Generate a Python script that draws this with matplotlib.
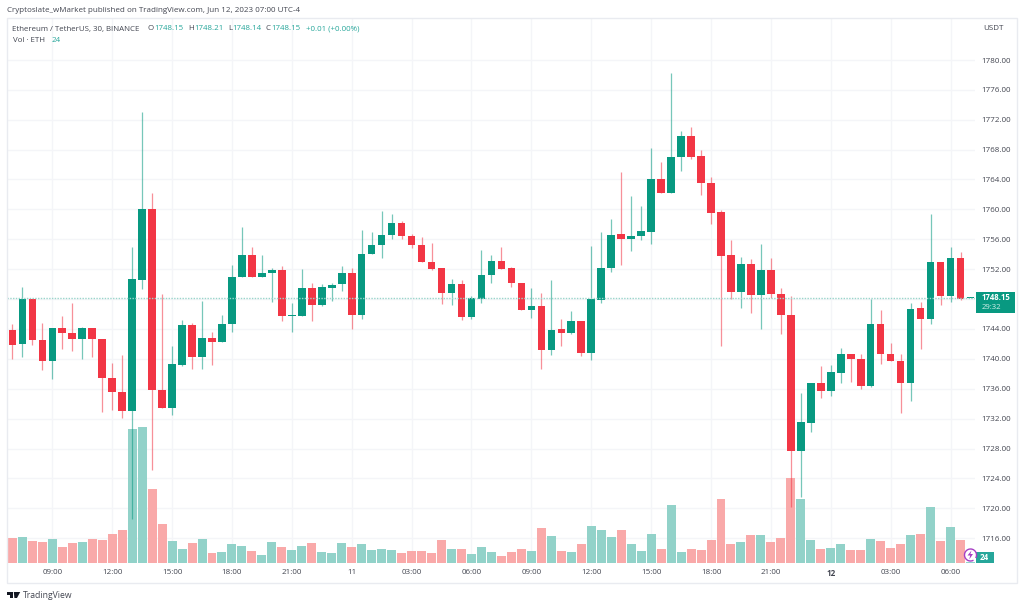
import matplotlib
matplotlib.use("Agg")
from matplotlib import pyplot as plt
from matplotlib.patches import Rectangle, Arc, Polygon
from matplotlib.transforms import Affine2D

plt.rcParams['font.family'] = ['Open Sans', 'DejaVu Sans']

# ===== data =====
opens = [1743.8, 1742.0, 1748.0, 1742.5, 1739.7, 1744.1, 1743.4, 1742.6, 1744.1, 1742.6,
         1737.4, 1735.6, 1733.0, 1750.6, 1760.1, 1735.8, 1733.45, 1739.2, 1744.5, 1740.2,
         1742.8, 1742.2, 1744.6, 1750.9, 1753.85, 1750.9, 1751.5, 1751.9, 1745.7, 1745.7,
         1749.5, 1747.15, 1749.5, 1749.95, 1751.5, 1745.8, 1754.0, 1755.3, 1756.6, 1758.2,
         1756.5, 1755.3, 1752.9, 1752.15, 1748.85, 1750.05, 1745.6, 1748.05, 1751.2, 1753.1,
         1752.15, 1750.2, 1746.5, 1747.05, 1741.2, 1743.95, 1743.5, 1745.1, 1740.8, 1747.9,
         1752.1, 1756.65, 1756.0, 1756.5, 1757.0, 1764.05, 1762.2, 1767.0, 1769.8, 1767.1,
         1763.6, 1759.6, 1753.85, 1749.0, 1752.7, 1748.6, 1751.9, 1748.7, 1745.85, 1727.6,
         1731.45, 1736.8, 1735.7, 1738.15, 1740.6, 1740.0, 1736.35, 1744.65, 1740.65, 1739.75,
         1736.7, 1746.75, 1745.3, 1752.9, 1748.4, 1753.5, 1748.14]
closes = [1741.9, 1748.0, 1742.5, 1739.7, 1744.1, 1743.4, 1742.6, 1744.1, 1742.6, 1737.4,
          1735.6, 1733.0, 1750.7, 1760.1, 1735.8, 1733.45, 1739.3, 1744.5, 1740.2, 1742.8,
          1742.2, 1744.65, 1750.9, 1753.85, 1750.9, 1751.5, 1751.9, 1745.7, 1745.8, 1749.5,
          1747.2, 1749.55, 1749.9, 1751.5, 1745.8, 1754.0, 1755.3, 1756.6, 1758.2, 1756.5,
          1755.3, 1752.9, 1752.0, 1748.85, 1750.05, 1745.6, 1748.1, 1751.2, 1753.1, 1752.05,
          1750.2, 1746.6, 1747.05, 1741.2, 1743.8, 1743.5, 1745.1, 1740.8, 1748.0, 1752.15,
          1756.6, 1756.0, 1756.5, 1757.1, 1764.05, 1762.2, 1767.05, 1769.8, 1767.05, 1763.5,
          1759.55, 1753.8, 1749.0, 1752.7, 1748.5, 1751.9, 1748.65, 1745.8, 1727.6, 1731.5,
          1736.8, 1735.7, 1738.2, 1740.6, 1739.95, 1736.35, 1744.65, 1740.6, 1739.65, 1736.7,
          1746.7, 1745.3, 1752.9, 1748.4, 1753.5, 1748.05, 1748.15]
highs = [1744.66, 1749.56, 1748.0, 1744.75, 1744.1, 1745.7, 1747.5, 1744.3, 1744.1, 1742.6,
         1739.4, 1740.5, 1755.0, 1773.0, 1762.2, 1748.7, 1741.7, 1745.2, 1744.8, 1747.7,
         1743.6, 1745.85, 1752.6, 1757.6, 1755.0, 1753.85, 1752.2, 1752.4, 1747.5, 1752.0,
         1750.1, 1750.0, 1750.2, 1752.45, 1752.1, 1757.2, 1757.0, 1759.8, 1759.4, 1758.4,
         1756.7, 1756.25, 1755.5, 1752.15, 1750.7, 1750.5, 1748.45, 1754.6, 1753.85, 1755.0,
         1752.3, 1750.2, 1749.5, 1748.75, 1750.5, 1745.3, 1746.35, 1745.1, 1755.1, 1757.0,
         1758.75, 1765.0, 1761.8, 1760.5, 1768.25, 1766.4, 1778.2, 1770.55, 1771.0, 1767.95,
         1764.4, 1759.95, 1755.9, 1753.6, 1753.3, 1755.35, 1753.5, 1749.45, 1748.45, 1735.4,
         1736.8, 1739.0, 1739.2, 1741.5, 1740.7, 1740.6, 1748.0, 1746.5, 1742.05, 1740.6,
         1747.5, 1747.65, 1759.35, 1752.9, 1755.0, 1754.3, 1748.21]
lows = [1740.0, 1740.24, 1741.8, 1738.45, 1737.3, 1741.35, 1741.1, 1740.0, 1740.2, 1732.9,
        1733.1, 1732.1, 1718.6, 1749.4, 1725.1, 1733.4, 1732.5, 1739.1, 1738.6, 1738.6,
        1739.2, 1742.2, 1743.6, 1750.9, 1750.9, 1750.9, 1747.65, 1745.05, 1743.6, 1745.7,
        1745.05, 1747.1, 1747.8, 1749.1, 1743.95, 1745.3, 1754.0, 1753.5, 1756.0, 1756.0,
        1754.9, 1752.9, 1751.9, 1747.4, 1747.2, 1745.15, 1745.3, 1747.5, 1750.2, 1752.05,
        1749.65, 1746.5, 1745.4, 1738.7, 1740.5, 1741.75, 1743.3, 1740.4, 1739.8, 1747.5,
        1751.65, 1752.55, 1754.5, 1755.9, 1755.35, 1762.2, 1762.2, 1765.15, 1766.7, 1761.95,
        1758.1, 1741.75, 1748.0, 1746.85, 1746.1, 1744.0, 1748.1, 1743.35, 1720.2, 1721.55,
        1730.15, 1734.75, 1735.0, 1736.8, 1736.95, 1736.0, 1736.2, 1739.3, 1739.65, 1732.8,
        1734.4, 1741.35, 1744.65, 1747.25, 1747.55, 1747.9, 1748.14]
volumes = [506, 520, 446, 420, 480, 334, 406, 434, 486, 474, 586, 666, 2694, 2726, 1486, 794,
           446, 280, 406, 480, 200, 226, 380, 354, 240, 174, 420, 326, 266, 354, 406, 226, 214,
           406, 320, 394, 266, 280, 266, 214, 240, 240, 214, 460, 294, 280, 186, 334, 226, 154,
           226, 280, 254, 700, 546, 240, 226, 394, 740, 666, 520, 666, 380, 254, 586, 294, 1166,
           220, 286, 266, 466, 1280, 394, 420, 574, 560, 420, 514, 1706, 1294, 474, 286, 300,
           394, 266, 266, 486, 446, 300, 394, 574, 586, 1126, 446, 720, 466, 24]

price_ticks = list(range(1716, 1784, 4))
time_ticks = list(range(4, 100, 6))
time_labels = ['09:00', '12:00', '15:00', '18:00', '21:00', '11', '03:00', '06:00',
               '09:00', '12:00', '15:00', '18:00', '21:00', '12', '03:00', '06:00']
last_price = 1748.15

GREEN = '#089981'
RED = '#F23645'
VOL_GREEN = '#92D2C9'
VOL_RED = '#F9A9A9'
GRID = '#F4F5F8'
TEXT = '#434651'
LEGEND_GREEN = '#26A69A'
FS = 5.8

# ===== figure =====
W, H = 1024, 607
fig = plt.figure(figsize=(W / 100, H / 100), dpi=100, facecolor='white')
px = Affine2D().scale(1, -1).translate(0, H)  # image pixel coordinates

L, R, T, B = 7, 975, 18, 563.3
ax_vol = fig.add_axes([L / W, 1 - B / H, (R - L) / W, (B - T) / H])
ax = fig.add_axes([L / W, 1 - B / H, (R - L) / W, (B - T) / H])
ax.patch.set_visible(False)

xs = list(range(len(opens)))
ax.set_xlim(-0.54, 96.45)
ax.set_ylim(1712.62, 1785.63)
ax_vol.set_xlim(-0.54, 96.45)
ax_vol.set_ylim(0, (B - T) * 20)

# grid goes on the lower axes so the volume bars cover it
ax_vol.set_yticks([(B - 209.3 - (1760 - p) * 7.475) * 20 for p in price_ticks])
ax_vol.set_xticks(time_ticks)
ax_vol.grid(True, color=GRID, linewidth=1)
ax_vol.set_axisbelow(True)
ax_vol.tick_params(length=0, labelleft=False, labelbottom=False)

up = [c >= o for o, c in zip(opens, closes)]
ax_vol.bar(xs, volumes, width=0.9, color=[VOL_GREEN if u else VOL_RED for u in up])

# candles
colors = [GREEN if u else RED for u in up]
ax.vlines(xs, lows, highs, colors=colors, linewidth=0.9, alpha=0.55)
ax.bar(xs, [max(abs(c - o), 0.1) for o, c in zip(opens, closes)],
       bottom=[min(o, c) for o, c in zip(opens, closes)],
       width=0.76, color=colors, linewidth=0)

# last price line
ax.axhline(last_price, color='#9AD5CB', linewidth=1, linestyle=(0, (1, 1)))

ax.yaxis.tick_right()
ax.set_yticks(price_ticks)
# 1748.00 sits under the last price tag
ax.set_yticklabels(['' if p == 1748 else f'{p:.2f}' for p in price_ticks])
ax.set_xticks(time_ticks)
ax.set_xticklabels(time_labels)
ax.get_xticklabels()[13].set_fontweight('bold')
ax.tick_params(axis='y', length=0, pad=4.8, labelsize=FS, labelcolor=TEXT)
ax.tick_params(axis='x', length=0, pad=4.2, labelsize=FS, labelcolor=TEXT)
for a in (ax, ax_vol):
    for s in a.spines.values():
        s.set_visible(False)

# outer frame
fig.add_artist(Rectangle((6.5, 18), 1010.5, 565, transform=px, fill=False,
                         edgecolor='#E9EBF0', linewidth=1))


def label(x, y, s, color=TEXT, size=FS, **kw):
    fig.text(x, y, s, transform=px, color=color, fontsize=size, va='center', **kw)


label(7, 10, 'Cryptoslate_wMarket published on TradingView.com, Jun 12, 2023 07:00 UTC-4', size=5.8)

# legend row
label(12.5, 29, 'Ethereum / TetherUS, 30, BINANCE', size=5.7)
for x, s, c in [(148, 'O', TEXT), (154, '1748.15', LEGEND_GREEN), (188, 'H', TEXT), (194, '1748.21', LEGEND_GREEN),
                (228, 'L', TEXT), (232.7, '1748.14', LEGEND_GREEN), (266, 'C', TEXT), (271.7, '1748.15', LEGEND_GREEN),
                (305.7, '+0.01 (+0.00%)', LEGEND_GREEN)]:
    label(x, 29, s, color=c, size=5.7)
label(12.7, 41, 'Vol · ETH', size=5.7)
label(51.7, 41, '24', color=LEGEND_GREEN, size=5.7)

label(983, 29, 'USDT')

# last price tag
fig.add_artist(Rectangle((975.5, 292.3), 39, 21, transform=px, facecolor=GREEN, edgecolor='none'))
label(981.5, 297.7, '1748.15', color='white', fontweight='bold', size=5.6)
label(981.5, 307.7, '29:32', color='#D5F0EA', size=5.6)

# volume tag
fig.add_artist(Rectangle((975.5, 552.3), 18, 11, transform=px, facecolor=LEGEND_GREEN, edgecolor='none'))
label(980, 558, '24', color='white', fontweight='bold')

# purple lightning badge
fig.add_artist(Arc((970.5, 555), 12, 12, theta1=60, theta2=390, transform=px,
                   color='#A63FC4', linewidth=1))
fig.add_artist(Polygon([(971.5, 550.5), (967.5, 555.5), (970.2, 555.5), (969.2, 559.5),
                        (973, 554), (970.4, 554)], closed=True, transform=px,
                       facecolor='#A63FC4', edgecolor='none'))

# TradingView logo
fig.add_artist(Polygon([(7, 592), (13, 592), (13, 598), (10, 598), (10, 594.5), (7, 594.5)],
                       closed=True, transform=px, facecolor='#131722', edgecolor='none'))
fig.add_artist(Polygon([(13.8, 592), (20.2, 592), (17, 598), (14.4, 598)],
                       closed=True, transform=px, facecolor='#131722', edgecolor='none'))
label(23, 595, 'TradingView', size=6.25)

plt.savefig('out.png', dpi=100)
